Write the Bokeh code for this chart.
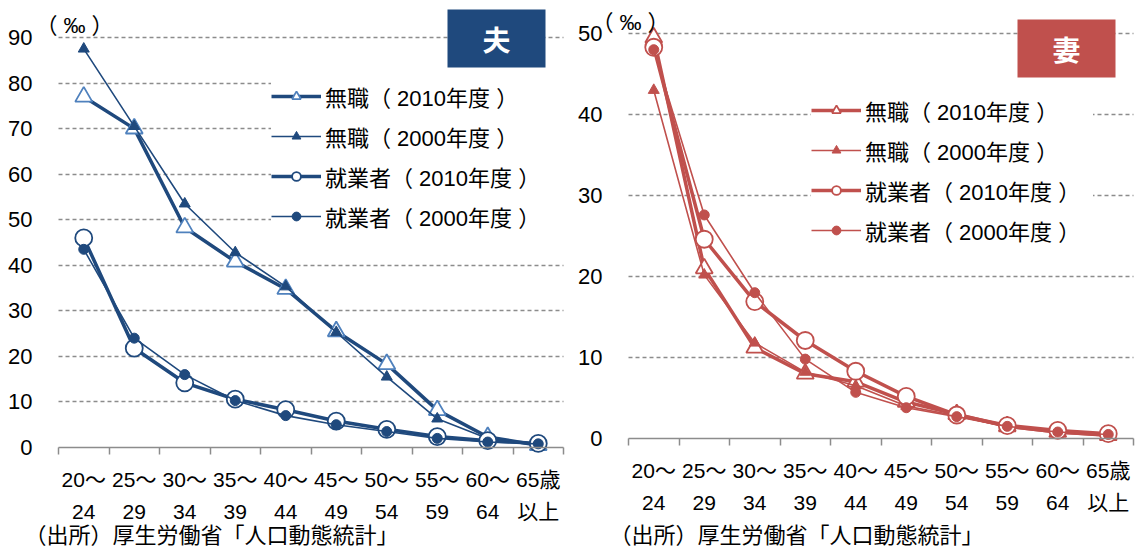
from bokeh.plotting import figure
from bokeh.layouts import row
from bokeh.models import (Range1d, FixedTicker, Legend, LegendItem, Label,
                          BoxAnnotation, Grid)
from bokeh.embed import file_html
from bokeh.resources import INLINE

# Age groups (x categories)
age_groups = ["20～\n24", "25～\n29", "30～\n34", "35～\n39", "40～\n44",
              "45～\n49", "50～\n54", "55～\n59", "60～\n64", "65歳\n以上"]

# Husband (夫), per mille
husband_none_2010 = [77.0, 70.0, 48.3, 40.8, 34.8, 25.5, 18.3, 8.2, 2.3, 0.5]
husband_none_2000 = [87.5, 70.5, 53.5, 42.8, 35.3, 25.3, 15.5, 6.3, 2.0, 0.5]
husband_emp_2010 = [46.0, 21.8, 14.2, 10.6, 8.3, 5.8, 4.0, 2.4, 1.5, 0.9]
husband_emp_2000 = [43.5, 24.0, 16.0, 10.3, 7.0, 5.0, 3.5, 2.0, 1.2, 0.8]

# Wife (妻), per mille
wife_none_2010 = [49.5, 21.0, 11.2, 8.0, 7.0, 4.5, 3.0, 1.5, 0.8, 0.4]
wife_none_2000 = [43.0, 20.2, 11.8, 8.2, 6.5, 4.0, 2.8, 1.4, 0.7, 0.3]
wife_emp_2010 = [48.3, 24.6, 16.9, 12.1, 8.3, 5.2, 2.9, 1.6, 1.0, 0.6]
wife_emp_2000 = [48.0, 27.6, 18.0, 9.8, 5.7, 3.8, 2.7, 1.5, 0.8, 0.5]

series_labels = ["無職（ 2010年度 ）", "無職（ 2000年度 ）",
                 "就業者（ 2010年度 ）", "就業者（ 2000年度 ）"]
source_text = "（出所）厚生労働省「人口動態統計」"
unit_text = "（ ‰ ）"

FONT = "Liberation Sans, Noto Sans CJK JP"
CJK = "Noto Sans CJK JP"
GRID = "#8c8c8c"
AXIS = "#8c8c8c"
W, H = 568, 547

n_cat = len(age_groups)
xs = [i + 0.5 for i in range(n_cat)]
HAS_CROSS_BOUNDS = "cross_bounds" in Grid.properties()


def panel(title, title_bg, line_col, tri_col, y_max, y_step, series,
          x0_px, x1_px, y0_px, ytop_px, badge_px, unit_px, source_px,
          legend_loc, legend_label_width):
    # pixel frame of the plotting area -> data ranges over the whole canvas
    xu = (x1_px - x0_px) / n_cat
    yu = (y0_px - ytop_px) / y_max

    def dx(px):
        return (px - x0_px) / xu

    def dy(py):
        return (y0_px - py) / yu

    p = figure(width=W, height=H, output_backend="svg", toolbar_location=None,
               x_range=Range1d(dx(0), dx(W)), y_range=Range1d(dy(H), dy(0)),
               min_border=0)
    p.outline_line_color = None
    p.background_fill_color = "white"
    p.border_fill_color = "white"

    # x axis on the zero line: labels at category centres, ticks between categories
    xa = p.xaxis[0]
    xa.fixed_location = 0
    xa.bounds = (0, n_cat)
    xa.ticker = FixedTicker(ticks=xs, minor_ticks=list(range(n_cat + 1)))
    xa.major_label_overrides = {x: lab for x, lab in zip(xs, age_groups)}
    xa.major_tick_out = 0
    xa.major_tick_in = 0
    xa.minor_tick_out = 7
    xa.minor_tick_in = 0
    xa.minor_tick_line_color = AXIS
    xa.minor_tick_line_width = 1.5
    xa.axis_line_color = AXIS
    xa.axis_line_width = 1.5
    xa.major_label_text_font = FONT
    xa.major_label_text_font_size = "21px"
    xa.major_label_text_color = "black"
    xa.major_label_text_line_height = 1.4
    xa.major_label_standoff = 13

    ya = p.yaxis[0]
    ya.fixed_location = 0
    ya.ticker = FixedTicker(ticks=list(range(0, y_max + 1, y_step)))
    ya.axis_line_color = None
    ya.major_tick_line_color = None
    ya.minor_tick_line_color = None
    ya.major_label_text_font = FONT
    ya.major_label_text_font_size = "22px"
    ya.major_label_text_color = "black"
    ya.major_label_standoff = 20

    grid_ticks = list(range(y_step, y_max + 1, y_step))
    p.xgrid.grid_line_color = None
    if HAS_CROSS_BOUNDS:
        p.ygrid.ticker = FixedTicker(ticks=grid_ticks)
        p.ygrid.cross_bounds = (0, n_cat)
        p.ygrid.grid_line_color = GRID
        p.ygrid.grid_line_width = 1.5
        p.ygrid.grid_line_dash = "4 3"
    else:
        p.ygrid.grid_line_color = None
        p.segment(x0=[0] * len(grid_ticks), x1=[n_cat] * len(grid_ticks),
                  y0=grid_ticks, y1=grid_ticks, line_color=GRID,
                  line_width=1.5, line_dash="4 3", level="underlay")

    none10, none00, emp10, emp00 = series
    items = []

    l1 = p.line(xs, none10, line_color=line_col, line_width=3.5)
    s1 = p.scatter(xs, none10, marker="triangle", size=17, fill_color="white",
                   line_color=tri_col, line_width=1.8)
    items.append(LegendItem(label=series_labels[0], renderers=[l1, s1]))

    l2 = p.line(xs, none00, line_color=line_col, line_width=1.6)
    s2 = p.scatter(xs, none00, marker="triangle", size=11, fill_color=line_col,
                   line_color=line_col, line_width=1)
    items.append(LegendItem(label=series_labels[1], renderers=[l2, s2]))

    l3 = p.line(xs, emp10, line_color=line_col, line_width=3.5)
    s3 = p.scatter(xs, emp10, marker="circle", size=17, fill_color="white",
                   line_color=line_col, line_width=1.8)
    items.append(LegendItem(label=series_labels[2], renderers=[l3, s3]))

    l4 = p.line(xs, emp00, line_color=line_col, line_width=1.6)
    s4 = p.scatter(xs, emp00, marker="circle", size=10, fill_color=line_col,
                   line_color=line_col, line_width=1)
    items.append(LegendItem(label=series_labels[3], renderers=[l4, s4]))

    legend = Legend(items=items, location=legend_loc)
    legend.background_fill_color = "white"
    legend.background_fill_alpha = 1.0
    legend.border_line_color = None
    legend.padding = 16
    legend.margin = 0
    legend.spacing = 8
    legend.glyph_width = 50
    legend.glyph_height = 22
    legend.label_height = 22
    legend.label_width = legend_label_width
    legend.label_standoff = 4
    legend.label_text_font = FONT
    legend.label_text_font_size = "22px"
    legend.label_text_color = "black"
    p.add_layout(legend)

    # panel title badge
    bl, bt, br, bb = badge_px
    p.add_layout(BoxAnnotation(left=dx(bl), right=dx(br), top=dy(bt), bottom=dy(bb),
                               fill_color=title_bg, fill_alpha=1.0, line_color=None))
    p.add_layout(Label(x=dx((bl + br) / 2), y=dy((bt + bb) / 2), text=title,
                       text_font=CJK, text_font_size="28px", text_font_style="bold",
                       text_color="white", text_align="center", text_baseline="middle"))

    # unit
    p.add_layout(Label(x=dx(unit_px[0]), y=dy(unit_px[1]), text=unit_text,
                       text_font=FONT, text_font_size="22px", text_color="black",
                       text_align="center", text_baseline="middle"))

    # source note
    p.add_layout(Label(x=dx(source_px[0]), y=dy(source_px[1]), text=source_text,
                       text_font=CJK, text_font_size="22px", text_color="black",
                       text_align="center", text_baseline="middle"))
    return p


left = panel("夫", "#1F497D", "#1F497D", "#4F81BD", 90, 10,
             (husband_none_2010, husband_none_2000, husband_emp_2010, husband_emp_2000),
             x0_px=58, x1_px=563, y0_px=447, ytop_px=37,
             badge_px=(447, 9, 545, 67), unit_px=(74, 25), source_px=(211, 532),
             legend_loc=(271, 315), legend_label_width=240)

right = panel("妻", "#C0504D", "#C0504D", "#C0504D", 50, 10,
              (wife_none_2010, wife_none_2000, wife_emp_2010, wife_emp_2000),
              x0_px=60, x1_px=565, y0_px=438, ytop_px=33,
              badge_px=(449, 19, 547, 77), unit_px=(62, 22), source_px=(228, 532),
              legend_loc=(243, 301), legend_label_width=228)

layout = row(left, right)
open("out.html", "w").write(file_html(layout, INLINE))
